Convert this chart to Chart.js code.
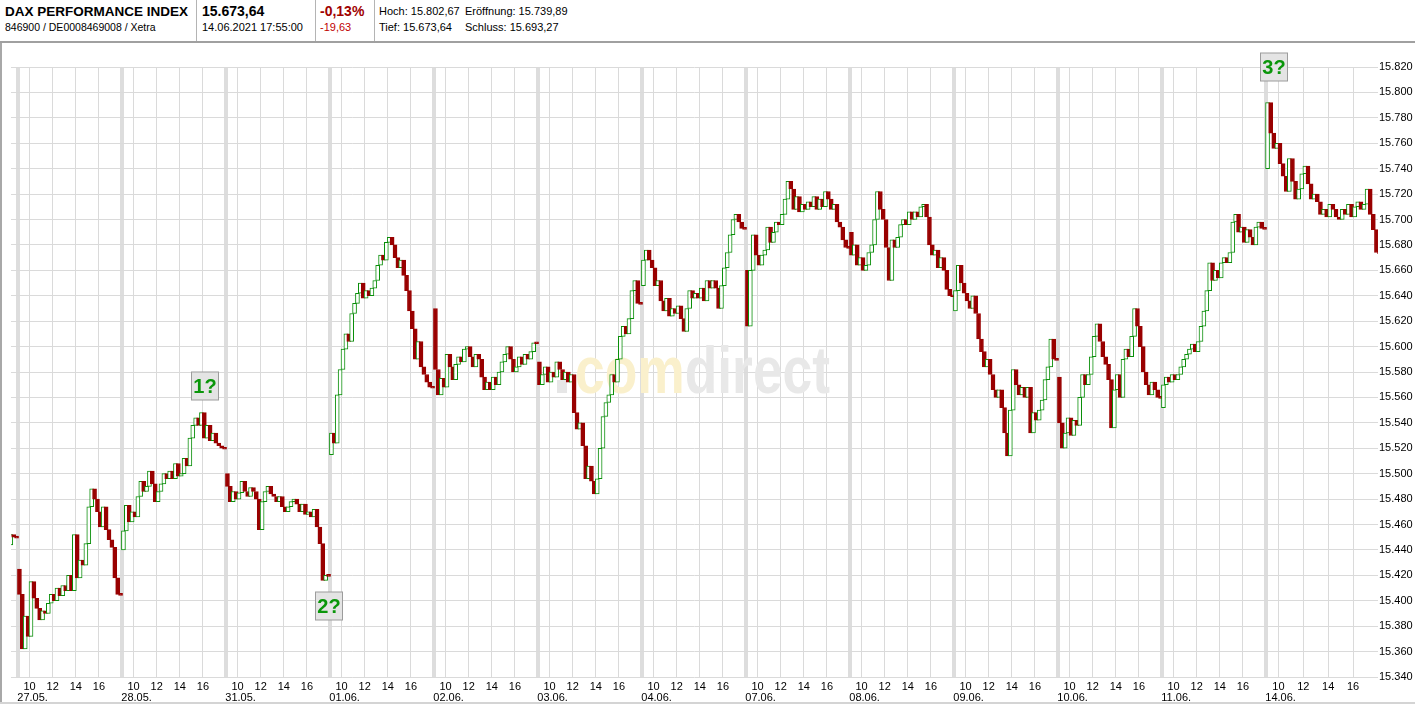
<!DOCTYPE html>
<html><head><meta charset="utf-8">
<script src="https://cdn.jsdelivr.net/npm/chart.js@4.4.1/dist/chart.umd.min.js"></script>
<style>
html,body{margin:0;padding:0;background:#fff;width:1415px;height:707px;overflow:hidden;font-family:"Liberation Sans",Arial,sans-serif;}
.t{position:absolute;white-space:nowrap;color:#000;}
.sep{position:absolute;top:0;width:1px;height:41px;background:#b4b4b4;}
#hline{position:absolute;left:0;top:41px;width:1415px;height:2px;background:#a0a0a0;}
#lframe{position:absolute;left:0;top:43px;width:2px;height:661px;background:#a8a8a8;}
#bframe{position:absolute;left:0;top:702px;width:1415px;height:2px;background:#d4d4d4;}
#wrap{position:absolute;left:0;top:42px;width:1415px;height:665px;}
</style></head>
<body>
<div class="t" style="left:5px;top:4px;font-weight:bold;font-size:13.5px;line-height:16px;">DAX PERFORMANCE INDEX</div>
<div class="t" style="left:5px;top:21px;font-size:10.5px;line-height:13px;">846900 / DE0008469008 / Xetra</div>
<div class="sep" style="left:196px"></div>
<div class="t" style="left:202px;top:3px;font-weight:bold;font-size:14px;line-height:17px;">15.673,64</div>
<div class="t" style="left:202px;top:21px;font-size:11px;line-height:13px;">14.06.2021 17:55:00</div>
<div class="sep" style="left:315px"></div>
<div class="t" style="left:320px;top:3px;font-weight:bold;font-size:14px;line-height:17px;color:#a00000;">-0,13%</div>
<div class="t" style="left:320px;top:21px;font-size:11px;line-height:13px;color:#c00000;">-19,63</div>
<div class="sep" style="left:374px"></div>
<div class="t" style="left:379px;top:5px;font-size:11px;line-height:13px;">Hoch: 15.802,67</div>
<div class="t" style="left:465px;top:5px;font-size:11px;line-height:13px;">Eröffnung: 15.739,89</div>
<div class="t" style="left:379px;top:21px;font-size:11px;line-height:13px;">Tief: 15.673,64</div>
<div class="t" style="left:465px;top:21px;font-size:11px;line-height:13px;">Schluss: 15.693,27</div>
<div id="hline"></div>
<div id="wrap"><canvas id="c" width="1415" height="665"></canvas></div>
<div id="lframe"></div>
<div id="bframe"></div>
<script>
const FONT = '"Liberation Sans", Arial, sans-serif';
const RED = '#990000';
const GREEN = '#0a8f0a';

// trading days (x categories)
const days = ['27.05.', '28.05.', '31.05.', '01.06.', '02.06.', '03.06.', '04.06.',
              '07.06.', '08.06.', '09.06.', '10.06.', '11.06.', '14.06.'];
const hourTicks = [10, 12, 14, 16];

// 15-minute price path per day (open of first candle, then closes; last value = closing auction)
const prevTail = [15444, 15452, 15450];   // end of 26.05.
const d0 = [15425, 15405, 15362, 15388, 15372, 15415, 15402, 15394, 15385, 15392, 15390, 15398, 15405, 15400, 15410, 15404, 15412, 15408, 15420, 15408, 15452, 15418, 15432, 15428, 15445, 15474, 15488, 15480, 15470, 15458, 15474, 15456, 15448, 15442, 15418, 15405];
const d1 = [15440, 15455, 15475, 15462, 15470, 15466, 15482, 15494, 15486, 15490, 15502, 15492, 15478, 15486, 15492, 15500, 15496, 15502, 15496, 15508, 15498, 15500, 15512, 15506, 15528, 15538, 15544, 15538, 15548, 15528, 15538, 15526, 15532, 15524, 15522, 15520];
const d2 = [15500, 15490, 15478, 15486, 15480, 15485, 15494, 15486, 15482, 15489, 15486, 15480, 15456, 15478, 15486, 15490, 15484, 15482, 15478, 15482, 15474, 15470, 15474, 15478, 15480, 15476, 15470, 15476, 15468, 15470, 15466, 15472, 15458, 15445, 15416, 15420];
const d3 = [15515, 15532, 15524, 15562, 15582, 15598, 15610, 15604, 15626, 15634, 15642, 15650, 15638, 15644, 15640, 15646, 15652, 15664, 15672, 15668, 15682, 15686, 15680, 15670, 15662, 15668, 15656, 15644, 15628, 15614, 15590, 15604, 15584, 15578, 15572, 15568];
const d4 = [15630, 15582, 15562, 15575, 15568, 15594, 15584, 15574, 15586, 15592, 15588, 15598, 15600, 15592, 15584, 15594, 15590, 15576, 15566, 15572, 15566, 15576, 15570, 15580, 15588, 15594, 15600, 15590, 15580, 15584, 15592, 15586, 15594, 15590, 15596, 15603];
const d5 = [15588, 15570, 15578, 15584, 15572, 15580, 15576, 15588, 15582, 15574, 15580, 15572, 15578, 15548, 15535, 15540, 15522, 15496, 15506, 15494, 15484, 15496, 15520, 15545, 15556, 15562, 15578, 15572, 15590, 15608, 15616, 15610, 15622, 15644, 15652, 15634];
const d6 = [15648, 15668, 15676, 15668, 15662, 15648, 15652, 15636, 15628, 15638, 15624, 15630, 15626, 15632, 15622, 15612, 15630, 15644, 15638, 15642, 15638, 15646, 15636, 15652, 15646, 15652, 15646, 15630, 15648, 15662, 15674, 15688, 15700, 15704, 15698, 15693];
const d7 = [15660, 15616, 15660, 15688, 15672, 15664, 15672, 15676, 15694, 15682, 15690, 15698, 15696, 15704, 15716, 15730, 15724, 15708, 15718, 15706, 15712, 15708, 15714, 15710, 15718, 15708, 15716, 15710, 15722, 15716, 15708, 15712, 15698, 15694, 15684, 15678];
const d8 = [15690, 15672, 15680, 15664, 15670, 15660, 15664, 15674, 15680, 15700, 15722, 15708, 15700, 15678, 15652, 15684, 15678, 15686, 15696, 15700, 15696, 15706, 15700, 15706, 15702, 15710, 15712, 15702, 15680, 15672, 15676, 15662, 15670, 15660, 15645, 15640];
const d9 = [15628, 15644, 15664, 15650, 15642, 15636, 15630, 15640, 15626, 15606, 15596, 15584, 15590, 15578, 15566, 15560, 15566, 15552, 15532, 15514, 15550, 15582, 15570, 15562, 15568, 15560, 15568, 15532, 15548, 15542, 15550, 15558, 15574, 15584, 15606, 15590];
const d10 = [15576, 15540, 15520, 15532, 15544, 15530, 15542, 15538, 15560, 15578, 15570, 15578, 15592, 15608, 15618, 15604, 15592, 15586, 15574, 15536, 15566, 15578, 15560, 15590, 15598, 15592, 15608, 15630, 15616, 15600, 15580, 15570, 15562, 15572, 15566, 15560];
const d11 = [15552, 15570, 15576, 15572, 15578, 15574, 15578, 15584, 15590, 15594, 15598, 15602, 15596, 15604, 15616, 15628, 15644, 15666, 15652, 15660, 15654, 15666, 15670, 15666, 15674, 15698, 15704, 15690, 15694, 15682, 15692, 15686, 15680, 15694, 15698, 15693];
const d12 = [15740, 15792, 15768, 15756, 15760, 15744, 15734, 15722, 15748, 15730, 15716, 15724, 15736, 15742, 15728, 15716, 15720, 15714, 15704, 15708, 15702, 15712, 15708, 15702, 15700, 15708, 15704, 15712, 15702, 15710, 15714, 15708, 15712, 15724, 15704, 15692, 15674];
const dayPrices = [d0, d1, d2, d3, d4, d5, d6, d7, d8, d9, d10, d11, d12];

// y axis
const yMin = 15340, yMax = 15820, yStep = 20;

// annotation boxes
const markerText = ['1?', '2?', '3?'];
const markerDay = [1, 2, 12];
const markerHourOffset = [7.14, 8.91, 0.64];
const markerValue = [15569, 15396, 15820];

// axis mapping: hours since 09:00, 9 h per day slot; the last day is drawn wider
const lastStretch = 112 / 104;
function xOf(d, h) { return 9 * d + h * (d === days.length - 1 ? lastStretch : 1); }

function candlesFor(d, prices, startSlot) {
  const out = [];
  for (let i = 0; i < prices.length - 1; i++) {
    const o = prices[i], c = prices[i + 1];
    let y = [o, c];
    if (Math.abs(c - o) < 1) { const m = (o + c) / 2; y = [m - 0.6, m + 0.6]; }
    out.push({ x: xOf(d, 0.125 + 0.25 * (startSlot + i)), y: y, up: c > o });
  }
  const last = prices[prices.length - 1];
  out.push({ x: xOf(d, 0.125 + 0.25 * (startSlot + prices.length - 1)), y: [last - 0.8, last + 0.8], up: false });
  return out;
}

const candles = candlesFor(-1, prevTail, 33);
dayPrices.forEach((p, d) => candles.push(...candlesFor(d, p, 0)));

const xMin = -0.606, xMax = xOf(days.length - 1, 9);

const xTickList = [];
days.forEach((lab, d) => {
  xTickList.push({ value: xOf(d, 0), kind: 'day', txt: '' });
  hourTicks.forEach(h => xTickList.push({ value: xOf(d, h - 9), kind: 'hour', txt: String(h) }));
});
const dateTickList = days.map((lab, d) => ({ value: xOf(d, 0) - 0.06, txt: lab }));

function fmt(v) { return String(Math.round(v)).replace(/\B(?=(\d{3})+(?!\d))/g, '.'); }

const watermark = {
  id: 'watermark',
  beforeDatasetsDraw(chart) {
    const ctx = chart.ctx;
    ctx.save();
    ctx.fillStyle = '#e6e6e6';
    ctx.fillRect(557, 338, 10, 13);
    ctx.font = 'bold 66px ' + FONT;
    ctx.textBaseline = 'alphabetic';
    const full = ctx.measureText('comdirect').width;
    const sx = 255 / full;
    ctx.translate(575, 351);
    ctx.scale(sx, 1);
    ctx.fillStyle = '#faf0cc';
    ctx.fillText('com', 0, 0);
    const w = ctx.measureText('com').width;
    ctx.fillStyle = '#e8e8e8';
    ctx.fillText('direct', w, 0);
    ctx.restore();
  }
};

const markers = {
  id: 'markers',
  afterDraw(chart) {
    const ctx = chart.ctx, xs = chart.scales.x, ys = chart.scales.y;
    ctx.save();
    markerText.forEach((t, i) => {
      const px = Math.round(xs.getPixelForValue(xOf(markerDay[i], markerHourOffset[i])));
      const py = Math.round(ys.getPixelForValue(markerValue[i]));
      ctx.fillStyle = '#e4e4e4';
      ctx.fillRect(px - 13.5, py - 14, 27, 28);
      ctx.strokeStyle = '#9c9c9c';
      ctx.lineWidth = 1;
      ctx.strokeRect(px - 13.5, py - 14, 27, 28);
      ctx.fillStyle = '#0a960a';
      ctx.font = 'bold 20px ' + FONT;
      ctx.textAlign = 'center';
      ctx.textBaseline = 'middle';
      ctx.fillText(t, px, py + 1);
    });
    ctx.restore();
  }
};

new Chart(document.getElementById('c'), {
  type: 'bar',
  data: {
    datasets: [{
      data: candles,
      barThickness: 4,
      borderWidth: 1,
      borderSkipped: false,
      backgroundColor: c => (c.raw && c.raw.up) ? '#ffffff' : RED,
      borderColor: c => (c.raw && c.raw.up) ? GREEN : RED
    }]
  },
  options: {
    responsive: false,
    animation: false,
    events: [],
    layout: { padding: { left: 11, top: 25, right: 0, bottom: 0 } },
    plugins: { legend: { display: false }, tooltip: { enabled: false } },
    scales: {
      x: {
        type: 'linear', position: 'bottom', weight: 0, bounds: 'data', offset: false,
        min: xMin, max: xMax,
        afterBuildTicks: s => { s.ticks = xTickList.map(t => ({ value: t.value, kind: t.kind, txt: t.txt })); },
        ticks: {
          autoSkip: false, maxRotation: 0, minRotation: 0, padding: 3, color: '#000',
          font: { size: 11, family: FONT },
          callback: (v, i, ts) => ts[i] ? ts[i].txt : ''
        },
        grid: {
          offset: false,
          drawTicks: false,
          color: c => (c.tick && c.tick.kind === 'day') ? '#dddddd' : '#dadada',
          lineWidth: c => (c.tick && c.tick.kind === 'day') ? 4 : 1
        },
        border: { display: false },
        afterFit: s => { s.height = 14; }
      },
      x2: {
        type: 'linear', position: 'bottom', weight: 1, bounds: 'data', offset: false,
        min: xMin, max: xMax,
        afterBuildTicks: s => { s.ticks = dateTickList.map(t => ({ value: t.value, txt: t.txt })); },
        ticks: {
          autoSkip: false, maxRotation: 0, minRotation: 0, padding: 0, align: 'start', color: '#000',
          font: { size: 11, family: FONT },
          callback: (v, i, ts) => ts[i] ? ts[i].txt : ''
        },
        grid: { display: false, drawTicks: false, offset: false },
        border: { display: false },
        afterFit: s => { s.height = 16; }
      },
      y: {
        type: 'linear', position: 'right', min: yMin, max: yMax,
        ticks: {
          stepSize: yStep, autoSkip: false, padding: 1, color: '#000',
          font: { size: 11, family: FONT },
          callback: v => fmt(v)
        },
        grid: { drawTicks: false, color: '#dadada', lineWidth: 1 },
        border: { display: false },
        afterFit: s => { s.width = 37; }
      }
    }
  },
  plugins: [watermark, markers]
});
</script>
</body></html>
